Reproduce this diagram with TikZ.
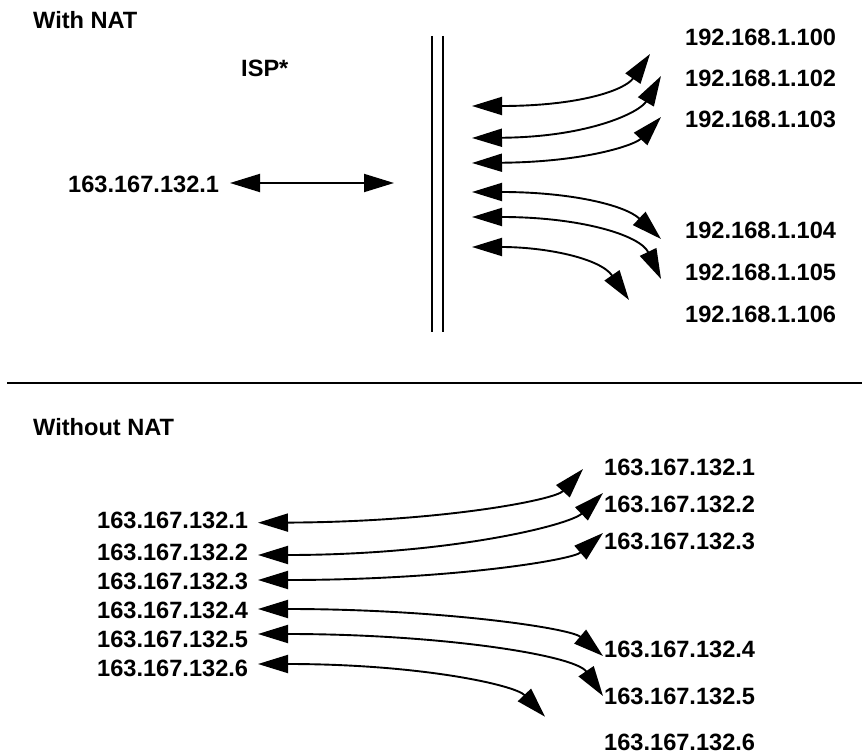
\documentclass[tikz,border=0pt]{standalone}
\usepackage{fontspec}
\setmainfont{Liberation Sans}
\usetikzlibrary{arrows.meta}
\begin{document}
\begin{tikzpicture}[x=1pt,y=-1pt,
  lbl/.style={anchor=base west,inner sep=0pt,text depth=0pt,font=\bfseries\fontsize{23.6}{28}\selectfont},
  link/.style={line width=1.9pt,{Triangle[length=30pt,width=18pt]}-{Triangle[length=30pt,width=18pt]}},
  wall/.style={line width=2pt},
  divider/.style={line width=2.5pt}]
\useasboundingbox (0,0) rectangle (862,754);

% ---------- With NAT ----------
\node[lbl] (withnat) at (33,29) {With NAT};
\node[lbl] (isp) at (241,77) {ISP*};
\node[lbl] (pub) at (68,193) {163.167.132.1};

\coordinate (wallAtop) at (432.3,36);
\coordinate (wallAbot) at (432.3,332);
\coordinate (wallBtop) at (443.3,36);
\coordinate (wallBbot) at (443.3,332);
\draw[wall] (wallAtop) -- (wallAbot);
\draw[wall] (wallBtop) -- (wallBbot);

\coordinate (pubL) at (230,183);
\coordinate (pubR) at (394,183);
\draw[link] (pubL) -- (pubR);

\node[lbl] (p100) at (685,46) {192.168.1.100};
\node[lbl] (p102) at (685,87) {192.168.1.102};
\node[lbl] (p103) at (685,128) {192.168.1.103};
\node[lbl] (p104) at (685,239) {192.168.1.104};
\node[lbl] (p105) at (685,280) {192.168.1.105};
\node[lbl] (p106) at (685,322) {192.168.1.106};

\coordinate (a1l) at (472,106);  \coordinate (a1r) at (650,54);
\coordinate (a2l) at (472,138);  \coordinate (a2r) at (661,76);
\coordinate (a3l) at (472,163);  \coordinate (a3r) at (661,117);
\coordinate (a4l) at (472,192);  \coordinate (a4r) at (661,239);
\coordinate (a5l) at (472,217);  \coordinate (a5r) at (661,279);
\coordinate (a6l) at (472,247);  \coordinate (a6r) at (629,300);

\draw[link] (a1l) .. controls (580,106) and (625,90) .. (a1r);
\draw[link] (a2l) .. controls (590,137) and (640,112) .. (a2r);
\draw[link] (a3l) .. controls (585,162) and (635,145) .. (a3r);
\draw[link] (a4l) .. controls (570,192) and (625,205) .. (a4r);
\draw[link] (a5l) .. controls (580,217) and (640,235) .. (a5r);
\draw[link] (a6l) .. controls (545,247) and (600,258) .. (a6r);

% ---------- divider ----------
\coordinate (divL) at (7,383);
\coordinate (divR) at (862,383);
\draw[divider] (divL) -- (divR);

% ---------- Without NAT ----------
\node[lbl] (withoutnat) at (33,435) {Without NAT};

\node[lbl] (l1) at (97,528) {163.167.132.1};
\node[lbl] (l2) at (97,560) {163.167.132.2};
\node[lbl] (l3) at (97,589) {163.167.132.3};
\node[lbl] (l4) at (97,618) {163.167.132.4};
\node[lbl] (l5) at (97,647) {163.167.132.5};
\node[lbl] (l6) at (97,676) {163.167.132.6};

\node[lbl] (r1) at (604,475) {163.167.132.1};
\node[lbl] (r2) at (604,512) {163.167.132.2};
\node[lbl] (r3) at (604,549) {163.167.132.3};
\node[lbl] (r4) at (604,657) {163.167.132.4};
\node[lbl] (r5) at (604,704) {163.167.132.5};
\node[lbl] (r6) at (604,750) {163.167.132.6};

\coordinate (b1l) at (258,522.7); \coordinate (b1r) at (583,469);
\coordinate (b2l) at (258,555);   \coordinate (b2r) at (603,493);
\coordinate (b3l) at (258,580);   \coordinate (b3r) at (603,533);
\coordinate (b4l) at (258,609);   \coordinate (b4r) at (603,656);
\coordinate (b5l) at (258,634);   \coordinate (b5r) at (603,696);
\coordinate (b6l) at (258,664);   \coordinate (b6r) at (545,716.7);

\draw[link] (b1l) .. controls (440,522) and (555,500) .. (b1r);
\draw[link] (b2l) .. controls (450,555) and (570,525) .. (b2r);
\draw[link] (b3l) .. controls (450,580) and (572,560) .. (b3r);
\draw[link] (b4l) .. controls (440,609) and (570,628) .. (b4r);
\draw[link] (b5l) .. controls (440,634) and (575,655) .. (b5r);
\draw[link] (b6l) .. controls (420,664) and (515,685) .. (b6r);
\end{tikzpicture}
\end{document}
